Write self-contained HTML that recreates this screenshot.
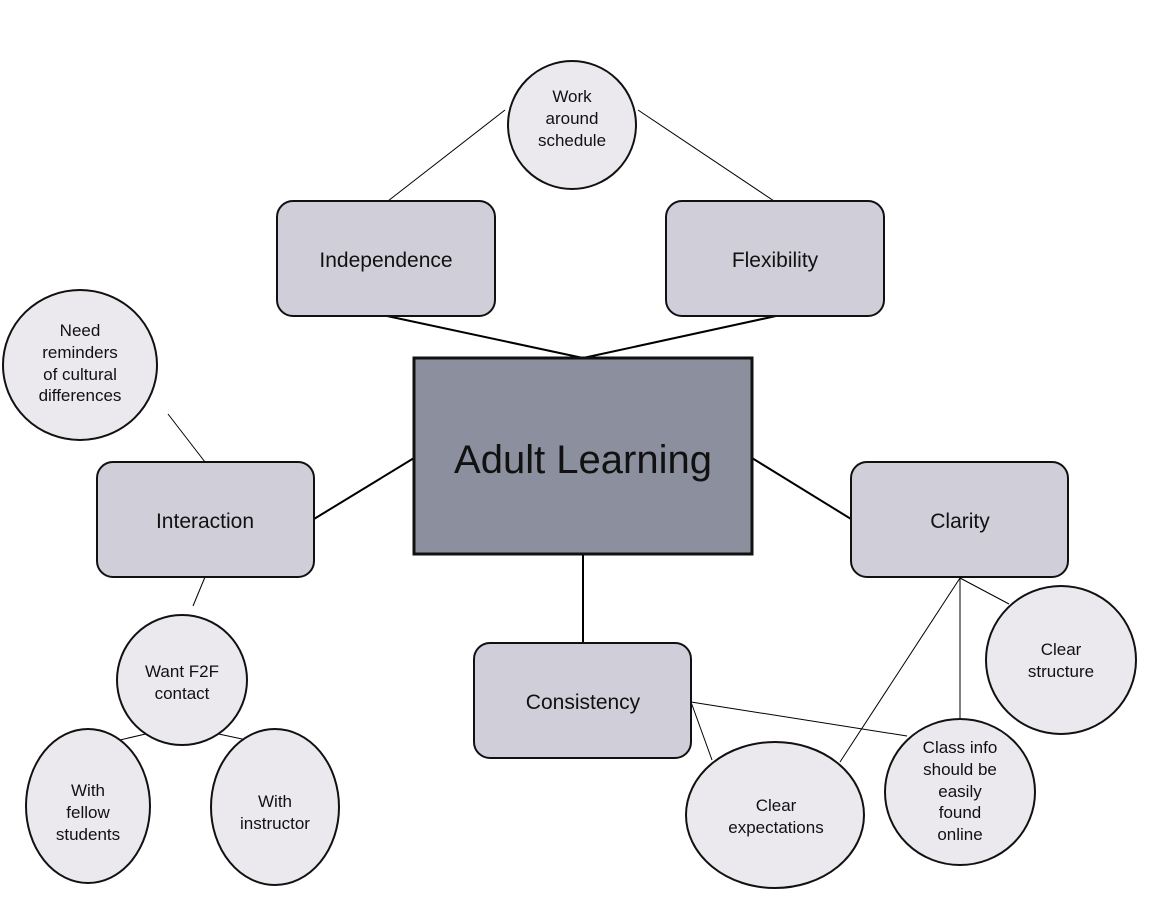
<!DOCTYPE html>
<html><head><style>body{margin:0;background:#fff}svg{display:block}text{font-family:"Liberation Sans",Arial,sans-serif;fill:#111}</style></head>
<body>
<svg width="1164" height="923" viewBox="0 0 1164 923" xmlns="http://www.w3.org/2000/svg">
<g stroke="#000" fill="none">
<g stroke-width="2">
<line x1="387" y1="316" x2="583" y2="358"/>
<line x1="776" y1="316" x2="583" y2="358"/>
<line x1="314" y1="519" x2="414" y2="458"/>
<line x1="752" y1="458" x2="851" y2="519"/>
<line x1="583" y1="554" x2="583" y2="643"/>
</g>
<g stroke-width="1">
<line x1="388" y1="201" x2="505" y2="110"/>
<line x1="638" y1="110" x2="774" y2="201"/>
<line x1="205" y1="462" x2="168" y2="414"/>
<line x1="205" y1="577" x2="193" y2="606"/>
<line x1="150" y1="733" x2="98" y2="745"/>
<line x1="214" y1="733" x2="256" y2="742"/>
<line x1="960" y1="578" x2="1009" y2="604"/>
<line x1="960" y1="578" x2="960" y2="718"/>
<line x1="960" y1="578" x2="840" y2="762"/>
<line x1="691" y1="702" x2="907" y2="736"/>
<line x1="691" y1="702" x2="712" y2="760"/>
</g>
</g>
<g stroke="#111" stroke-width="2" fill="#d0ced9">
<rect x="277" y="201" width="218" height="115" rx="16"/>
<rect x="666" y="201" width="218" height="115" rx="16"/>
<rect x="97" y="462" width="217" height="115" rx="16"/>
<rect x="851" y="462" width="217" height="115" rx="16"/>
<rect x="474" y="643" width="217" height="115" rx="16"/>
</g>
<rect x="414" y="358" width="338" height="196" fill="#8c8f9d" stroke="#111" stroke-width="3"/>
<g stroke="#111" stroke-width="2" fill="#ebe9ee">
<ellipse cx="572" cy="125" rx="64" ry="64"/>
<ellipse cx="80" cy="365" rx="77" ry="75"/>
<ellipse cx="182" cy="680" rx="65" ry="65"/>
<ellipse cx="88" cy="806" rx="62" ry="77"/>
<ellipse cx="275" cy="807" rx="64" ry="78"/>
<ellipse cx="1061" cy="660" rx="75" ry="74"/>
<ellipse cx="960" cy="792" rx="75" ry="73"/>
<ellipse cx="775" cy="815" rx="89" ry="73"/>
</g>
<g text-anchor="middle" font-size="21">
<text x="386" y="267">Independence</text>
<text x="775" y="267">Flexibility</text>
<text x="205" y="528">Interaction</text>
<text x="960" y="528">Clarity</text>
<text x="583" y="709">Consistency</text>
<text x="583" y="473" font-size="40">Adult Learning</text>
</g>
<g text-anchor="middle" font-size="17">
<text x="572" y="102">Work</text><text x="572" y="124">around</text><text x="572" y="146">schedule</text>
<text x="80" y="336">Need</text><text x="80" y="358">reminders</text><text x="80" y="380">of cultural</text><text x="80" y="401">differences</text>
<text x="182" y="677">Want F2F</text><text x="182" y="699">contact</text>
<text x="88" y="796">With</text><text x="88" y="818">fellow</text><text x="88" y="840">students</text>
<text x="275" y="807">With</text><text x="275" y="829">instructor</text>
<text x="1061" y="655">Clear</text><text x="1061" y="677">structure</text>
<text x="960" y="753">Class info</text><text x="960" y="775">should be</text><text x="960" y="797">easily</text><text x="960" y="818">found</text><text x="960" y="840">online</text>
<text x="776" y="811">Clear</text><text x="776" y="833">expectations</text>
</g>
</svg>
</body></html>
